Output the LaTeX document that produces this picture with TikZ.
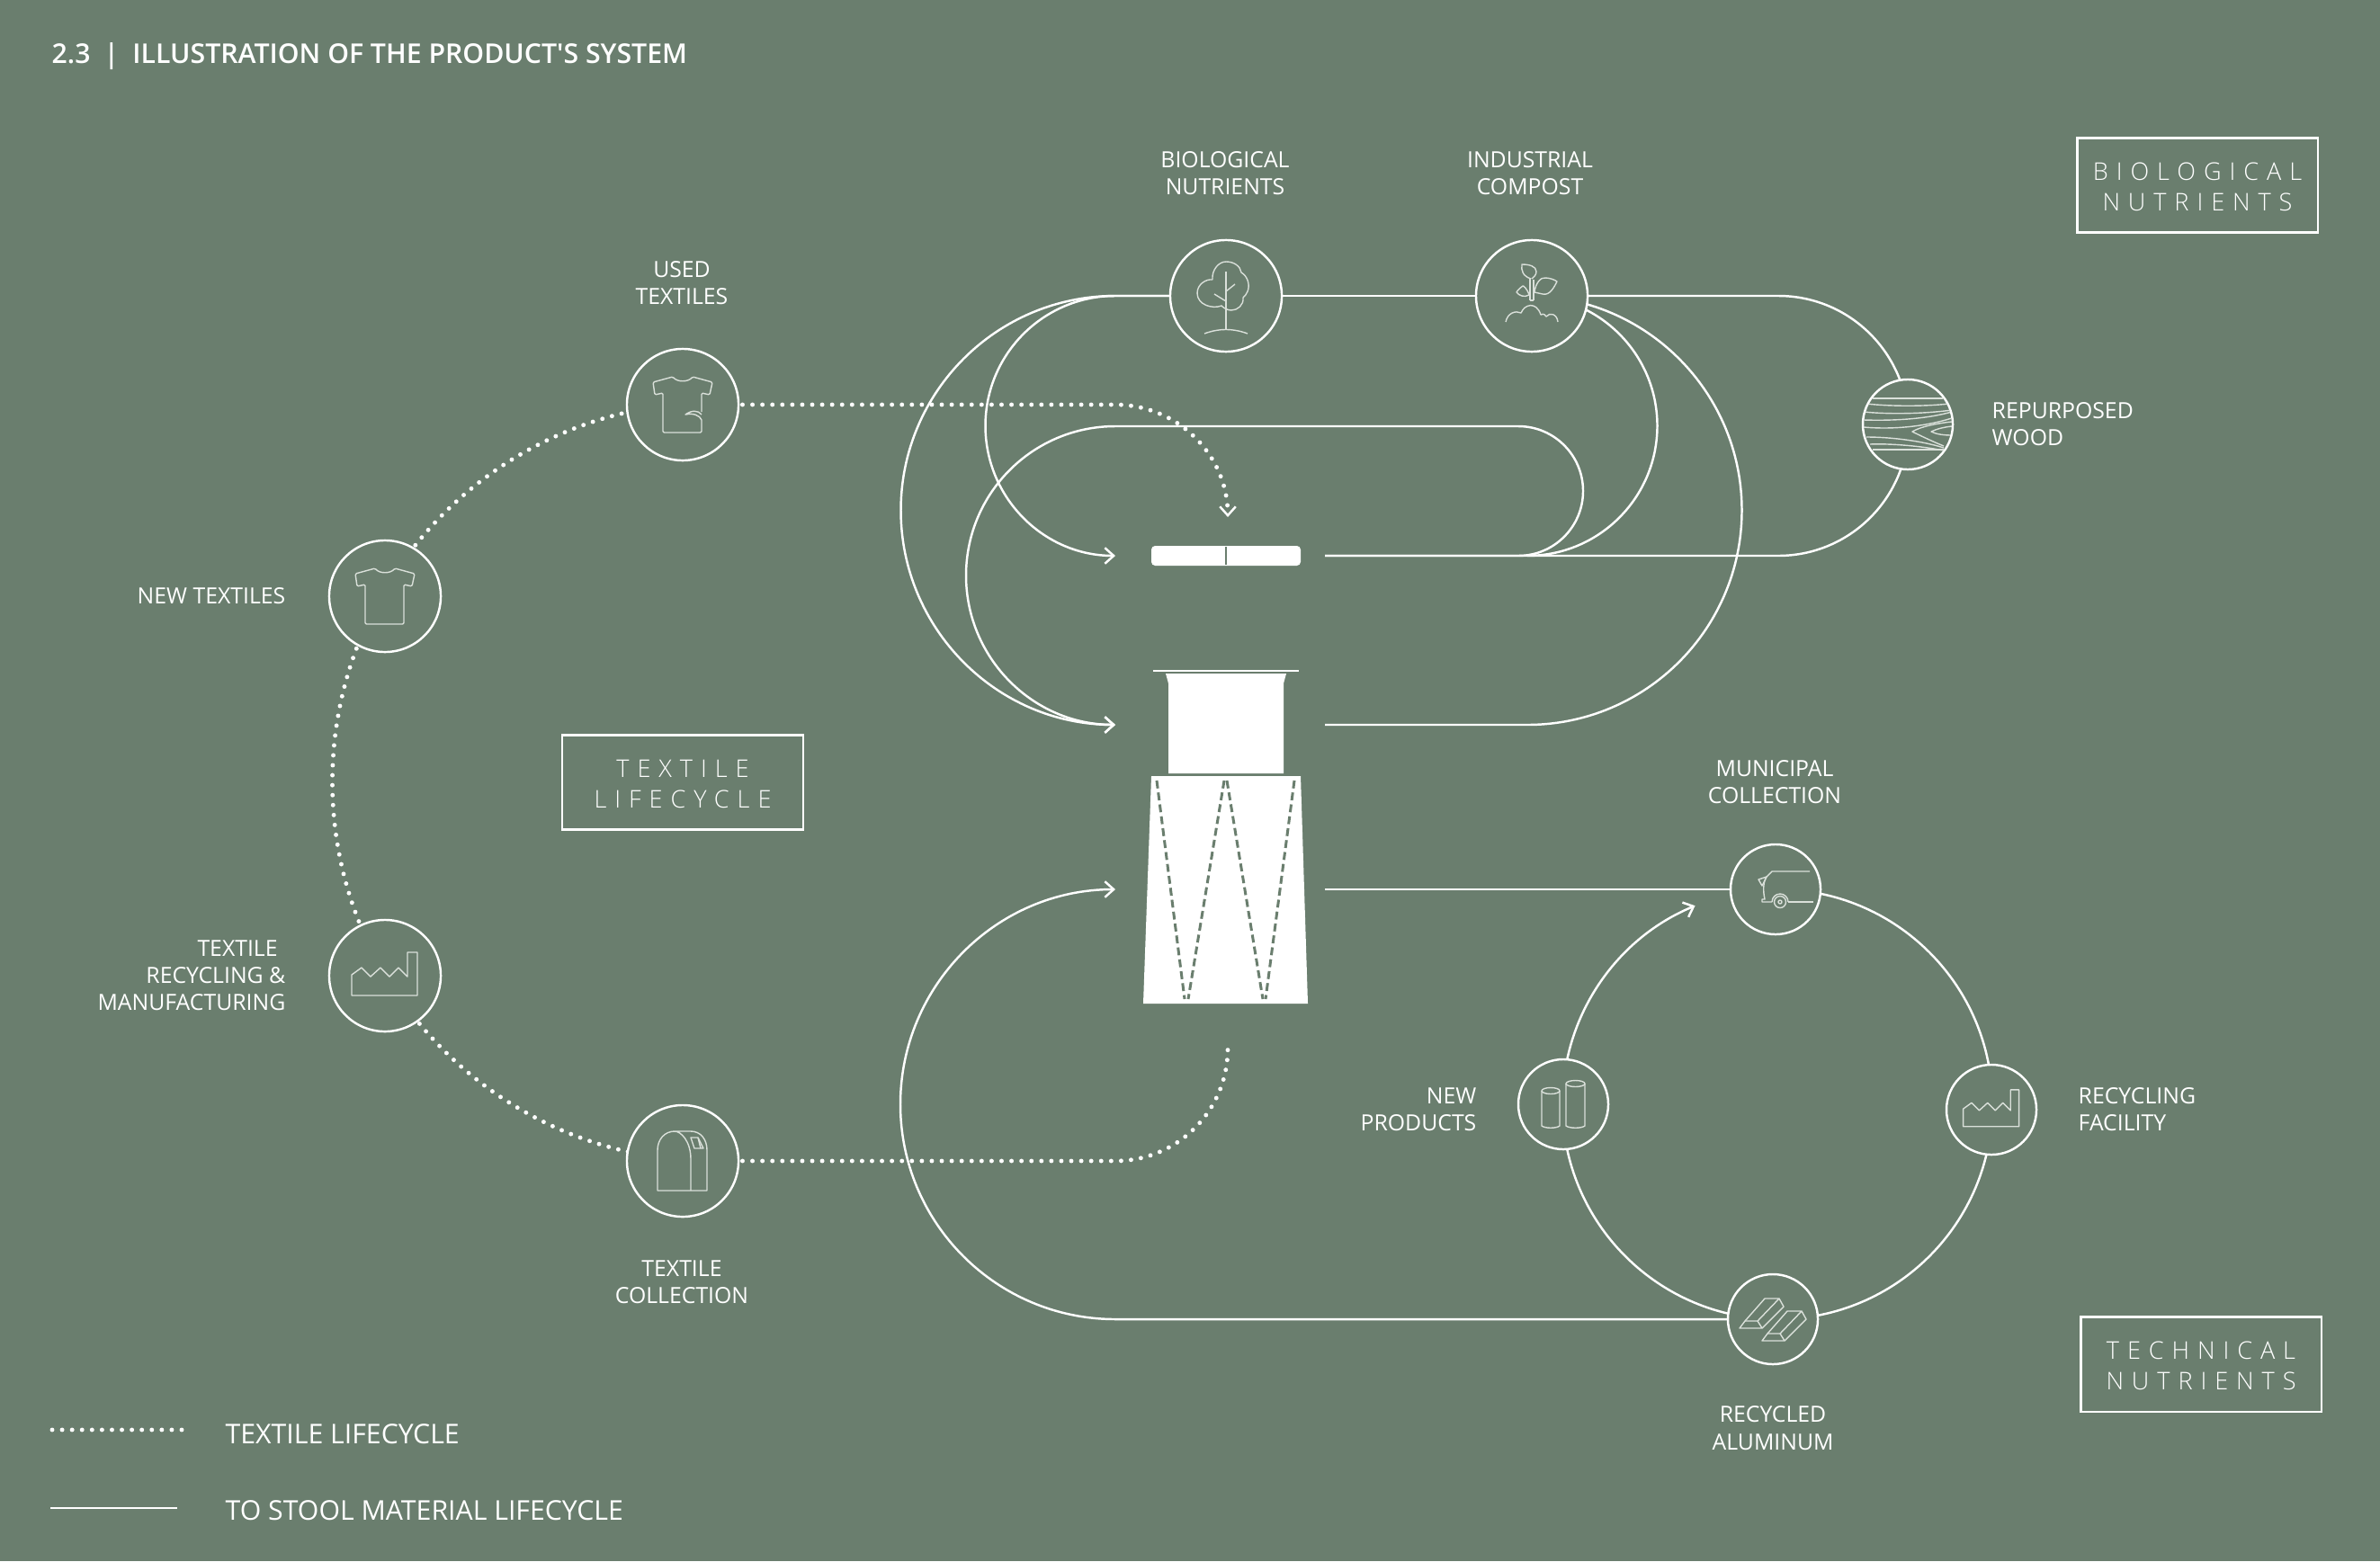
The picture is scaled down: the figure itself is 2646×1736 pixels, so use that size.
\documentclass[tikz,border=0pt]{standalone}
\RequirePackage{fontspec}
\RequirePackage{tikz}
\usetikzlibrary{arrows.meta}
\usetikzlibrary{backgrounds}
\setmainfont{Open Sans}
\newfontfamily\titlefont{Open Sans Semibold}
\newfontfamily\spacedfont[LetterSpace=33]{Open Sans Light}
\definecolor{sagegreen}{RGB}{106,126,110}
\definecolor{iconline}{RGB}{218,224,218}
\tikzset{
    flow/.style={draw=white,line width=0.7pt},
    flowtip/.style={flow,-{Straight Barb[length=2.8pt,width=5pt,line width=0.7pt]}},
    dotline/.style={draw=white,line width=1.4pt,line cap=round,dash pattern=on 0pt off 3.15pt},
    hub/.style={circle,draw=white,fill=sagegreen,line width=0.7pt,inner sep=0pt,minimum size=1.24cm},
    hubsmall/.style={hub,minimum size=1cm},
    lbl/.style={text=white,inner sep=0pt,align=center,font=\fontsize{7.05}{8.6}\selectfont},
    lblright/.style={lbl,align=right,anchor=east},
    lblleft/.style={lbl,align=left,anchor=west},
    legendlbl/.style={text=white,inner sep=0pt,anchor=west,font=\fontsize{8.6}{10}\selectfont},
    framebox/.style={draw=white,line width=0.6pt,minimum width=2.67cm,minimum height=1.05cm,inner sep=0pt,align=center,text=white,font=\spacedfont\fontsize{7.7}{9.6}\selectfont},
    icon/.style={draw=iconline,line width=0.4pt,line join=round},
    stool/.style={fill=white,draw=none},
    stoolfold/.style={draw=sagegreen,line width=0.85pt,dash pattern=on 2.5pt off 1.3pt}
}
\newcommand{\drawfactory}{
    \draw[icon] (-37,22) -- (-37,-1) -- (-26,-9) -- (-16,1) -- (-5,-9) -- (5,1) -- (15,-9) -- (25,1) -- (25,-26) -- (36,-26) -- (36,22) -- cycle;
}
\newcommand{\drawingot}{
    \draw[icon] (-37,10) -- (-31,2) -- (-17,2) -- (-12,10) -- cycle;
    \draw[icon] (-31,2) -- (-9,-23) -- (7,-23) -- (-17,2);
    \draw[icon] (7,-23) -- (12,-14) -- (-12,10);
}
\begin{document}
\begin{tikzpicture}[x=0.01cm,y=-0.01cm]
                \useasboundingbox (0,0) rectangle (2646,1736);

                \node[hub] (usedtex) at (759,450) {};
                \node[hub] (newtex) at (428,663) {};
                \node[hub] (recycling) at (428,1085) {};
                \node[hub] (collection) at (759,1291) {};
                \node[hub] (bio) at (1363,329) {};
                \node[hub] (compost) at (1703,329) {};
                \node[hubsmall] (wood) at (2121,472) {};
                \node[hubsmall] (municipal) at (1974,989) {};
                \node[hubsmall] (products) at (1738,1228) {};
                \node[hubsmall] (facility) at (2214,1234) {};
                \node[hubsmall] (aluminum) at (1971,1467) {};

                \coordinate (lidin) at (1240,618);
                \coordinate (lidout) at (1473,618);
                \coordinate (cupin) at (1240,806);
                \coordinate (cupout) at (1473,806);
                \coordinate (basein) at (1240,989);
                \coordinate (baseout) at (1473,989);
                \coordinate (dotstart) at (58,1590);
                \coordinate (dotend) at (203,1590);
                \coordinate (solidstart) at (56,1677);
                \coordinate (solidend) at (197,1677);

                \begin{scope}[on background layer]
                    \fill[sagegreen] (0,0) rectangle (2646,1736);

                    \draw[flow] (bio) -- (compost);
                    \draw[flowtip] (bio.center) -- (1240,329) arc[start angle=-90,end angle=-270,radius=144.5];
                    \draw[flowtip] (bio.center) -- (1240,329) arc[start angle=-90,end angle=-270,radius=238.5];
                    \draw[flow] (compost.center) -- (1698,329) arc[start angle=-90,end angle=90,radius=144.5];
                    \draw[flow] (compost.center) -- (1698,329) arc[start angle=-90,end angle=90,radius=238.5] -- (cupout);
                    \draw[flow] (compost.center) -- (1977,329) arc[start angle=-90,end angle=90,radius=144.5] -- (lidout);
                    \draw[flowtip] (lidout) -- (1688,618) arc[start angle=90,end angle=-90,radius=72] -- (1240,474) arc[start angle=-90,end angle=-270,radius=166];

                    \draw[flow] (baseout) -- (municipal);
                    \draw[flowtip] (aluminum.center) -- (1240,1467) arc[start angle=90,end angle=270,radius=239];
                    \draw[flowtip] (municipal.center) -- (1976,989) arc[start angle=-90,end angle=247.5,radius=239];

                    \draw[dotline] (usedtex.center) -- (791,448) arc[start angle=270,end angle=90,radius=421.5] -- (collection.center);
                    \draw[dotline,-{Straight Barb[length=2.8pt,width=5pt,line width=0.7pt]}] (usedtex.center) -- (1240,450) arc[start angle=-90,end angle=0,radius=125];
                    \draw[dotline] (collection.center) -- (1240,1291) arc[start angle=90,end angle=0,radius=125];
                \end{scope}

                \fill[stool,rounded corners=1.2pt] (1280,607) rectangle (1446,629);
                \draw[sagegreen,line width=0.3pt] (1363,608) -- (1363,628);
                \draw[white,line width=0.8pt] (1282,746) -- (1444,746);
                \fill[stool] (1296,749) -- (1430,749) -- (1427,760) -- (1427,860) -- (1299,860) -- (1299,760) -- cycle;
                \fill[stool] (1280,863) -- (1446,863) -- (1454,1116) -- (1271,1116) -- cycle;
                \draw[stoolfold] (1286,868) -- (1317,1111);
                \draw[stoolfold] (1361,868) -- (1321,1111);
                \draw[stoolfold] (1364,868) -- (1404,1111);
                \draw[stoolfold] (1439,868) -- (1407,1111);

                \begin{scope}[shift={(428,663)}]
                    \draw[icon,rounded corners=0.4pt] (-11,-31) .. controls (-6,-25) and (6,-25) .. (11,-31) -- (33,-25) -- (30,-11) -- (21,-13) -- (21,31) -- (-22,31) -- (-22,-13) -- (-31,-11) -- (-33,-25) -- cycle;
                \end{scope}

                \begin{scope}[shift={(759,450)}]
                    \draw[icon,rounded corners=0.4pt] (21,8) -- (21,-13) -- (30,-11) -- (33,-25) -- (11,-31) .. controls (6,-25) and (-6,-25) .. (-11,-31) -- (-33,-25) -- (-31,-11) -- (-22,-13) -- (-22,31) -- (21,31) -- (21,17);
                    \draw[icon] (21,17) .. controls (19,12) and (12,9) .. (3,11) .. controls (10,6) and (17,6) .. (21,11);
                \end{scope}

                \begin{scope}[shift={(428,1085)}]
                    \drawfactory
                \end{scope}

                \begin{scope}[shift={(2214,1234)},scale=0.85]
                    \drawfactory
                \end{scope}

                \begin{scope}[shift={(759,1291)}]
                    \draw[icon] (9,33) -- (9,-2) .. controls (9,-22) and (-2,-33) .. (-9,-33) .. controls (-20,-33) and (-28,-24) .. (-28,-12) -- (-28,33) -- (27,33) -- (27,-12) .. controls (27,-24) and (20,-33) .. (9,-33) -- (-9,-33);
                    \draw[icon] (9,-26) -- (17,-26) -- (23,-14) -- (13,-14) -- cycle;
                    \draw[icon] (17,-26) -- (20,-14);
                \end{scope}

                \begin{scope}[shift={(1363,329)}]
                    \draw[icon] (-15,-18) .. controls (-16,-29) and (-8,-38) .. (0,-38) .. controls (9,-38) and (16,-33) .. (17,-26) .. controls (24,-22) and (27,-12) .. (24,-5) .. controls (23,-2) and (21,0) .. (19,2) .. controls (20,10) and (13,16) .. (6,16) .. controls (2,16) and (-2,14) .. (-5,11) .. controls (-15,15) and (-32,10) .. (-32,-3) .. controls (-32,-13) and (-22,-19) .. (-15,-18);
                    \draw[icon] (0,-27) -- (0,37);
                    \draw[icon] (0,-5) -- (10,-13);
                    \draw[icon] (-13,-2) -- (0,6);
                    \draw[icon] (-24,42) .. controls (-8,36) and (8,36) .. (24,42);
                \end{scope}

                \begin{scope}[shift={(1703,329)}]
                    \draw[icon] (-29,29) .. controls (-27,19) and (-18,16) .. (-12,19) .. controls (-8,9) and (5,6) .. (10,21) .. controls (14,19) and (15,22) .. (16,23) .. controls (20,18) and (28,20) .. (29,29);
                    \draw[icon] (-2,5) -- (-2,-20);
                    \draw[icon] (2,5) -- (2,-18);
                    \draw[icon] (-2,5) -- (2,5);
                    \draw[icon] (-1,-19) .. controls (-10,-22) and (-12,-28) .. (-11,-35) .. controls (-3,-35) and (5,-33) .. (5,-27) .. controls (5,-23) and (2,-21) .. (0,-19);
                    \draw[icon] (3,-4) .. controls (4,-14) and (10,-21) .. (15,-20) .. controls (20,-20) and (25,-18) .. (28,-16) .. controls (25,-10) and (20,0) .. (12,-2) .. controls (9,-3) and (6,-3) .. (3,-4);
                    \draw[icon] (-3,-1) .. controls (-5,-8) and (-10,-12) .. (-10,-11) .. controls (-13,-9) and (-16,-6) .. (-17,-4) .. controls (-14,0) and (-8,2) .. (-3,-1);
                \end{scope}

                \begin{scope}[shift={(2121,472)}]
                    \clip (0,0) circle [radius=49];
                    \draw[icon] (-39,-29) -- (39,-29);
                    \draw[icon] (-46,-23) .. controls (-20,-20) and (20,-20) .. (46,-23);
                    \draw[icon] (-49,-14) .. controls (-20,-11) and (20,-12) .. (49,-16);
                    \draw[icon] (-49,-5) .. controls (-15,-4) and (20,-6) .. (49,-14);
                    \draw[icon] (-49,3) .. controls (-15,6) and (20,2) .. (49,-7);
                    \draw[icon] (49,-3) .. controls (30,-1) and (13,3) .. (5,8) .. controls (15,13) and (30,20) .. (40,24);
                    \draw[icon] (49,2) .. controls (40,3) and (32,5) .. (26,8) .. controls (32,11) and (40,12) .. (49,12);
                    \draw[icon] (-46,14) .. controls (-20,14) and (15,18) .. (40,26);
                    \draw[icon] (-42,22) .. controls (-20,21) and (15,24) .. (40,29);
                    \draw[icon] (-39,28) -- (40,28);
                \end{scope}

                \begin{scope}[shift={(1974,989)}]
                    \draw[icon] (38,-20) -- (-4,-20) -- (-10,-14) .. controls (-14,-8) and (-14,2) .. (-12,11) -- (-15,11) -- (-15,14) -- (-4,14);
                    \draw[icon] (-19,-11) -- (-10,-14) -- (-15,-4) -- cycle;
                    \draw[icon] (-4,14) arc[start angle=180,end angle=360,radius=9];
                    \draw[icon] (14,14) -- (42,14);
                    \draw[icon] (5,14) circle [radius=6.5];
                    \draw[icon] (5,14) circle [radius=2];
                \end{scope}

                \begin{scope}[shift={(1738,1228)}]
                    \draw[icon] (-24,-15) -- (-24,24) .. controls (-20,27) and (-8,27) .. (-4,24) -- (-4,-15);
                    \draw[icon] (-14,-15) circle [x radius=10,y radius=3.5];
                    \draw[icon] (3,-23) -- (3,24) .. controls (7,27) and (20,27) .. (24,24) -- (24,-23);
                    \draw[icon] (13.5,-23) circle [x radius=10.5,y radius=3.5];
                \end{scope}

                \begin{scope}[shift={(1971,1467)}]
                    \drawingot
                \end{scope}

                \begin{scope}[shift={(1996,1481)}]
                    \drawingot
                \end{scope}

                \node[text=white,inner sep=0pt,anchor=west,font=\titlefont\fontsize{8.6}{11}\selectfont] (title) at (57,63) {2.3\hspace{0.5em}|\hspace{0.5em}ILLUSTRATION OF THE PRODUCT'S SYSTEM};

                \node[lbl] (biolbl) at (1362,193) {BIOLOGICAL\\NUTRIENTS};
                \node[lbl] (compostlbl) at (1701,193) {INDUSTRIAL\\COMPOST};
                \node[lbl] (usedlbl) at (758,315) {USED\\TEXTILES};
                \node[lblright] (newlbl) at (318,663) {NEW TEXTILES};
                \node[lblright] (recyclinglbl) at (318,1085) {TEXTILE\hspace{0.35em}\null\\RECYCLING \&\\MANUFACTURING};
                \node[lbl] (collectionlbl) at (758,1426) {TEXTILE\\COLLECTION};
                \node[lblleft] (woodlbl) at (2214,472) {REPURPOSED\\WOOD};
                \node[lbl] (municipallbl) at (1973,870) {MUNICIPAL\\COLLECTION};
                \node[lblright] (productslbl) at (1642,1234) {NEW\\PRODUCTS};
                \node[lblleft] (facilitylbl) at (2310,1234) {RECYCLING\\FACILITY};
                \node[lbl] (aluminumlbl) at (1971,1588) {RECYCLED\\ALUMINUM};

                \node[framebox,text depth=0pt] (lifecyclebox) at (759,870) {\raisebox{-0.9pt}{TEXTILE}\\\raisebox{-0.9pt}{LIFECYCLE}};
                \node[framebox,text depth=0pt] (biobox) at (2443,206) {\raisebox{-0.9pt}{BIOLOGICAL}\\\raisebox{-0.9pt}{NUTRIENTS}};
                \node[framebox,text depth=0pt] (technicalbox) at (2447,1517) {\raisebox{-0.9pt}{TECHNICAL}\\\raisebox{-0.9pt}{NUTRIENTS}};

                \draw[dotline] (dotstart) -- (dotend);
                \draw[flow] (solidstart) -- (solidend);
                \node[legendlbl] (dotlbl) at (250,1595) {TEXTILE LIFECYCLE};
                \node[legendlbl] (solidlbl) at (250,1680) {TO STOOL MATERIAL LIFECYCLE};
            \end{tikzpicture}
\end{document}
